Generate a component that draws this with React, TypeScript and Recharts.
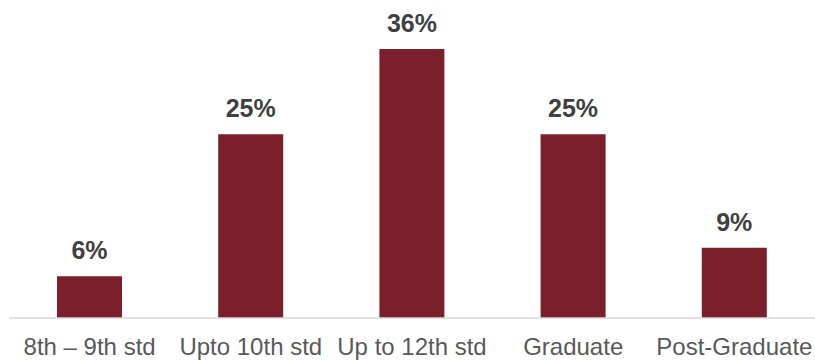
import React from "react";
import { BarChart, Bar, XAxis, YAxis, LabelList } from "recharts";

const categories = ["8th – 9th std", "Upto 10th std", "Up to 12th std", "Graduate", "Post-Graduate"];
const shares = [5.6, 24.6, 36, 24.6, 9.4];
const shareLabels = ["6%", "25%", "36%", "25%", "9%"];

const data = categories.map((c, i) => ({ name: c, value: shares[i], label: shareLabels[i] }));

const FONT = '"Liberation Sans", Arial, sans-serif';

const Tick = (props: any) => {
  const { x, y, payload } = props;
  return (
    <text x={x} y={y} dy={37} textAnchor="middle" fill="#595959" fontSize={24} fontFamily={FONT}>
      {payload.value}
    </text>
  );
};

export default function App() {
  return (
    <div style={{ position: "absolute", left: 0, top: 0, width: 815, height: 363, background: "#fff" }}>
      <BarChart
        width={815}
        height={363}
        data={data}
        margin={{ top: 49, right: 0, bottom: 15, left: 9 }}
      >
        <XAxis
          dataKey="name"
          height={30}
          tick={<Tick />}
          tickLine={false}
          tickSize={0}
          tickMargin={0}
          axisLine={{ stroke: "#d9d9d9", strokeWidth: 1.5 }}
          interval={0}
        />
        <YAxis hide domain={[0, 36]} />
        <Bar dataKey="value" fill="#7b1f2b" barSize={65} isAnimationActive={false}>
          <LabelList
            dataKey="label"
            position="top"
            offset={17}
            fill="#404040"
            fontSize={25}
            fontWeight="bold"
            fontFamily={FONT}
          />
        </Bar>
      </BarChart>
    </div>
  );
}
